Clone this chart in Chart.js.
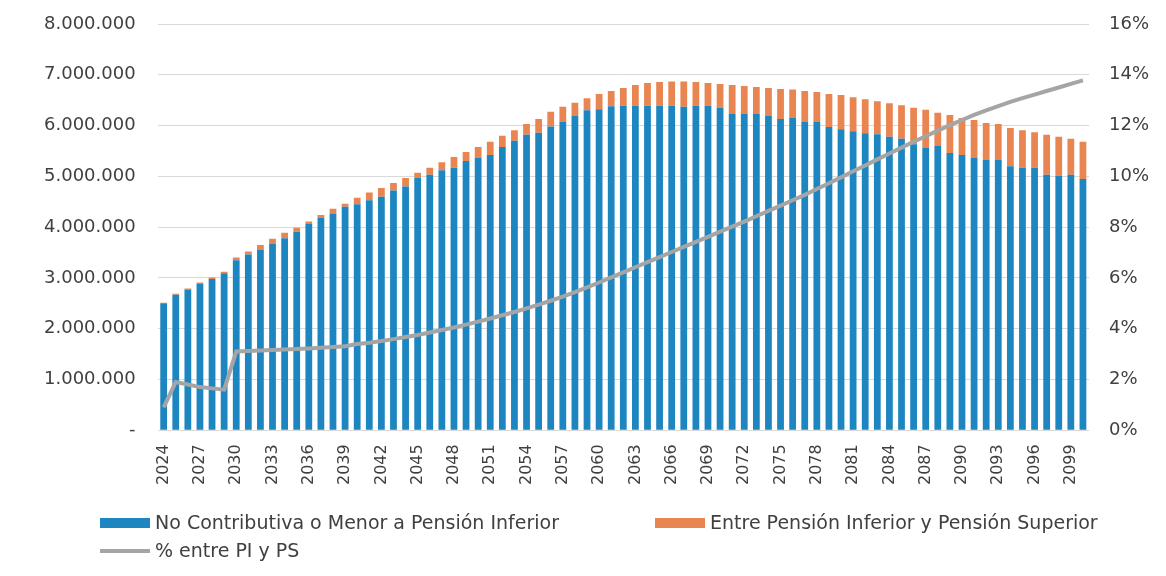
<!DOCTYPE html>
<html>
<head>
<meta charset="utf-8">
<script src="https://cdn.jsdelivr.net/npm/chart.js@4.4.1/dist/chart.umd.min.js"></script>
<style>
  html, body { margin: 0; padding: 0; background: #ffffff; }
  #wrap { width: 1166px; height: 576px; position: relative; font-family: "DejaVu Sans", sans-serif; color: #404040; }
  .leg { position: absolute; font-size: 19px; line-height: 20px; white-space: nowrap; }
  .leg .box { display: inline-block; width: 50px; height: 10px; vertical-align: middle; margin-right: 5px; position: relative; top: -1px; }
  .leg .ln { display: inline-block; width: 50px; height: 4px; background: #a5a5a5; vertical-align: middle; margin-right: 5px; position: relative; top: -1px; }
</style>
</head>
<body>
<div id="wrap">
  <canvas id="chart" width="1166" height="576"></canvas>
  <div class="leg" style="left:100px; top:512px;"><span class="box" style="background:#1d86c0"></span>No Contributiva o Menor a Pensión Inferior</div>
  <div class="leg" style="left:655px; top:512px;"><span class="box" style="background:#e98550"></span>Entre Pensión Inferior y Pensión Superior</div>
  <div class="leg" style="left:100px; top:540px;"><span class="ln"></span>% entre PI y PS</div>
</div>
<script>
// Years on the x axis
const years = [
  '2024','2025','2026','2027','2028','2029','2030','2031','2032','2033','2034','2035','2036','2037',
  '2038','2039','2040','2041','2042','2043','2044','2045','2046','2047','2048','2049','2050','2051',
  '2052','2053','2054','2055','2056','2057','2058','2059','2060','2061','2062','2063','2064','2065',
  '2066','2067','2068','2069','2070','2071','2072','2073','2074','2075','2076','2077','2078','2079',
  '2080','2081','2082','2083','2084','2085','2086','2087','2088','2089','2090','2091','2092','2093',
  '2094','2095','2096','2097','2098','2099','2100'
];

// No Contributiva o Menor a Pensión Inferior
const noContributiva = [
  2500000, 2670000, 2770000, 2880000, 2980000, 3090000, 3350000, 3460000, 3550000, 3680000, 3780000, 3910000, 4060000, 4180000,
  4270000, 4400000, 4450000, 4530000, 4600000, 4720000, 4800000, 4970000, 5030000, 5120000, 5170000, 5300000, 5360000, 5420000,
  5580000, 5700000, 5820000, 5860000, 5980000, 6070000, 6200000, 6300000, 6320000, 6380000, 6390000, 6390000, 6390000, 6390000,
  6390000, 6370000, 6390000, 6390000, 6350000, 6230000, 6230000, 6230000, 6200000, 6130000, 6150000, 6070000, 6070000, 5970000,
  5930000, 5890000, 5850000, 5830000, 5780000, 5740000, 5630000, 5560000, 5600000, 5460000, 5420000, 5360000, 5320000, 5320000,
  5200000, 5170000, 5170000, 5030000, 5010000, 5030000, 4950000
];

// Entre Pensión Inferior y Pensión Superior
const entrePIyPS = [
  10000, 20000, 20000, 30000, 30000, 30000, 50000, 60000, 100000, 90000, 110000, 80000, 50000, 60000,
  90000, 60000, 130000, 150000, 170000, 150000, 170000, 100000, 140000, 160000, 210000, 180000, 220000, 260000,
  220000, 210000, 210000, 270000, 290000, 300000, 250000, 240000, 300000, 300000, 350000, 410000, 450000, 470000,
  480000, 500000, 470000, 450000, 470000, 570000, 550000, 530000, 540000, 590000, 560000, 610000, 590000, 650000,
  670000, 670000, 670000, 650000, 660000, 660000, 720000, 750000, 650000, 750000, 730000, 750000, 730000, 710000,
  750000, 740000, 700000, 790000, 770000, 710000, 730000
];

// % entre PI y PS
const pctPIyPS = [
  0.9, 1.9, 1.8, 1.7, 1.65, 1.6, 3.1, 3.12, 3.14, 3.16, 3.18, 3.2, 3.22, 3.25,
  3.28, 3.31, 3.4, 3.45, 3.52, 3.59, 3.67, 3.75, 3.85, 3.95, 4.05, 4.16, 4.28, 4.4,
  4.53, 4.66, 4.8, 4.95, 5.1, 5.26, 5.44, 5.63, 5.82, 6.02, 6.22, 6.42, 6.62, 6.82,
  7.02, 7.22, 7.42, 7.62, 7.82, 8.02, 8.22, 8.43, 8.64, 8.85, 9.06, 9.27, 9.5, 9.73,
  9.96, 10.2, 10.43, 10.67, 10.9, 11.13, 11.36, 11.58, 11.8, 12.02, 12.22, 12.42, 12.6, 12.77,
  12.93, 13.08, 13.22, 13.36, 13.5, 13.64, 13.78
];

const leftTicks = [0, 1000000, 2000000, 3000000, 4000000, 5000000, 6000000, 7000000, 8000000];
const rightTicks = [0, 2, 4, 6, 8, 10, 12, 14, 16];

const fontFamily = '"DejaVu Sans", sans-serif';
const textColor = '#404040';

function formatMiles(v) {
  if (v === 0) return '-';
  return String(v).replace(/\B(?=(\d{3})+(?!\d))/g, '.');
}

const ctx = document.getElementById('chart');
new Chart(ctx, {
  data: {
    labels: years,
    datasets: [
      {
        type: 'bar',
        label: 'No Contributiva o Menor a Pensión Inferior',
        data: noContributiva,
        backgroundColor: '#1d86c0',
        borderWidth: 0,
        barPercentage: 0.56,
        categoryPercentage: 1,
        yAxisID: 'y',
        order: 2
      },
      {
        type: 'bar',
        label: 'Entre Pensión Inferior y Pensión Superior',
        data: entrePIyPS,
        backgroundColor: '#e98550',
        borderWidth: 0,
        barPercentage: 0.56,
        categoryPercentage: 1,
        yAxisID: 'y',
        order: 2
      },
      {
        type: 'line',
        label: '% entre PI y PS',
        data: pctPIyPS,
        borderColor: '#a5a5a5',
        backgroundColor: '#a5a5a5',
        borderWidth: 4,
        pointRadius: 0,
        tension: 0,
        yAxisID: 'y1',
        order: 1
      }
    ]
  },
  options: {
    responsive: false,
    animation: false,
    devicePixelRatio: 1,
    layout: { padding: { top: 24, left: 44, right: 17, bottom: 85 } },
    plugins: {
      tooltip: { enabled: false },
      legend: { display: false }
    },
    scales: {
      x: {
        stacked: true,
        grid: { display: false },
        border: { display: false },
        ticks: {
          autoSkip: false,
          minRotation: 90,
          maxRotation: 90,
          padding: 6,
          color: textColor,
          font: { family: fontFamily, size: 16 },
          callback: function (value, index) {
            return index % 3 === 0 ? years[index] : '';
          }
        }
      },
      y: {
        stacked: true,
        position: 'left',
        min: 0,
        max: 8000000,
        afterBuildTicks: axis => { axis.ticks = leftTicks.map(v => ({ value: v })); },
        grid: { color: '#d9d9d9', lineWidth: 1, drawTicks: true, tickLength: 22, tickColor: 'rgba(0,0,0,0)' },
        border: { display: false },
        ticks: {
          padding: 0,
          color: textColor,
          font: { family: fontFamily, size: 18 },
          callback: v => formatMiles(v)
        }
      },
      y1: {
        position: 'right',
        min: 0,
        max: 16,
        afterBuildTicks: axis => { axis.ticks = rightTicks.map(v => ({ value: v })); },
        grid: { color: 'rgba(0,0,0,0)', drawOnChartArea: false, drawTicks: true, tickLength: 20, tickColor: 'rgba(0,0,0,0)' },
        border: { display: false },
        ticks: {
          padding: 0,
          color: textColor,
          font: { family: fontFamily, size: 18 },
          callback: v => v + '%'
        }
      }
    }
  }
});
</script>
</body>
</html>
